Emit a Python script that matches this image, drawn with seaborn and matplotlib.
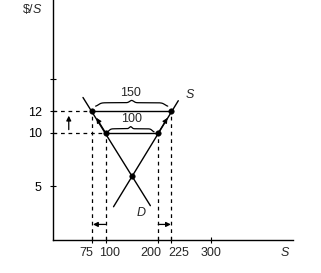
import numpy as np
import pandas as pd
import matplotlib
matplotlib.use("Agg")
import matplotlib.pyplot as plt
import seaborn as sns

# ---- data ----
prices = [12, 10]                 # price levels $/S
demand_q = [75, 100]              # D quantities at those prices
supply_q = [225, 200]             # S quantities at those prices
d_line_q = [57, 185]              # demand line end points
d_line_p = [13.3, 3.2]
s_line_q = [115, 238]             # supply line end points
s_line_p = [3.1, 13.0]
gap_labels = ["150", "100"]       # excess supply at each price
x_ticks = [75, 100, 200, 225, 300]
x_label_shift_px = [-6, 4, -7, 7.5, 0]
y_ticks = [5, 10, 12, 15]
y_tick_labels = ["5", "10", "12", ""]

sns.set_theme(style="ticks")
plt.rcParams["font.family"] = ["Liberation Sans", "DejaVu Sans"]

fig = plt.figure(figsize=(3.21, 2.73), dpi=100)
ax = fig.add_axes([0.165, 0.121, 0.748, 0.879])
ax.set_xlim(0, 456)
ax.set_ylim(0, 22.4)

lw = 1.0
dash = (0, (3, 3))
# demand and supply lines
sns.lineplot(x=d_line_q, y=d_line_p, ax=ax, color="black", lw=lw, sort=False)
sns.lineplot(x=s_line_q, y=s_line_p, ax=ax, color="black", lw=lw, sort=False)

# intersection
d_slope = (d_line_q[1] - d_line_q[0]) / (d_line_p[1] - d_line_p[0])
s_slope = (s_line_q[1] - s_line_q[0]) / (s_line_p[1] - s_line_p[0])
p_star = (s_line_q[0] - s_slope * s_line_p[0] - d_line_q[0] + d_slope * d_line_p[0]) / (d_slope - s_slope)
q_star = d_line_q[0] + d_slope * (p_star - d_line_p[0])

# horizontal solid lines between D and S, dashed guides
for p, qd, qs in zip(prices, demand_q, supply_q):
    sns.lineplot(x=[qd, qs], y=[p, p], ax=ax, color="black", lw=lw)
    ax.plot([0, qd], [p, p], color="black", lw=0.9, ls=dash)
    ax.plot([qd, qd], [0, p], color="black", lw=0.9, ls=dash)
    ax.plot([qs, qs], [0, p], color="black", lw=0.9, ls=dash)

# dots
pts = pd.DataFrame({"q": demand_q + supply_q + [q_star],
                    "p": prices + prices + [p_star]})
sns.scatterplot(data=pts, x="q", y="p", ax=ax, color="black", s=16,
                edgecolor="black", zorder=5)

# braces
def brace(ax, q0, q1, y0, h):
    t = np.linspace(0, 1, 200)
    half = np.where(t < 0.5, t * 2, (1 - t) * 2)
    prof = (1 / (1 + np.exp(-25 * (half - 0.08))) * 0.6 +
            1 / (1 + np.exp(-40 * (half - 0.94))) * 0.4)
    ax.plot(q0 + (q1 - q0) * t, y0 + h * prof, color="black", lw=0.9)

brace(ax, 81, 218, 12.45, 0.6)
brace(ax, 103, 192, 10.05, 0.55)
ax.text(148, 13.75, gap_labels[0], ha="center", va="center", fontsize=9)
ax.text(150, 11.3, gap_labels[1], ha="center", va="center", fontsize=9)

arrow = dict(arrowstyle="-|>", color="black", lw=0.9,
             mutation_scale=7, shrinkA=0, shrinkB=0)
ax.annotate("", xy=(30, 11.6), xytext=(30, 10.3), arrowprops=arrow)
ax.annotate("", xy=(82.5, 11.4), xytext=(100, 10), arrowprops=arrow)
ax.annotate("", xy=(217.5, 11.4), xytext=(200, 10), arrowprops=arrow)
ax.annotate("", xy=(76, 1.45), xytext=(100, 1.45), arrowprops=arrow)
ax.annotate("", xy=(224, 1.45), xytext=(200, 1.45), arrowprops=arrow)

# curve labels
ax.text(259, 13.5, "S", fontsize=9, style="italic", ha="center", va="center")
ax.text(167, 2.5, "D", fontsize=9, style="italic", ha="center", va="center")

# axes
ax.set_xticks(x_ticks)
ax.set_xticklabels([])
for v, sh in zip(x_ticks, x_label_shift_px):
    ax.annotate(str(v), xy=(v, 0), xycoords=("data", "axes fraction"),
                xytext=(sh * 0.72, -9.3), textcoords="offset points",
                ha="center", va="center", fontsize=9, annotation_clip=False)
ax.set_yticks(y_ticks)
ax.set_yticklabels(y_tick_labels)
ax.tick_params(direction="inout", length=4, width=0.8, labelsize=9,
               colors="black", pad=6)
for s in ["top", "right"]:
    ax.spines[s].set_visible(False)
for s in ["left", "bottom"]:
    ax.spines[s].set_linewidth(1.0)
    ax.spines[s].set_color("black")
ax.set_xlabel("")
ax.set_ylabel("")
fig.text(33 / 321, 1 - 10 / 273, "$/", fontsize=9, ha="right", va="center")
fig.text(33 / 321, 1 - 10 / 273, "S", fontsize=9, style="italic", ha="left", va="center")
fig.text(285 / 321, 1 - 253 / 273, "S", fontsize=9, style="italic", ha="center", va="center")

fig.savefig("out.png", dpi=100)
